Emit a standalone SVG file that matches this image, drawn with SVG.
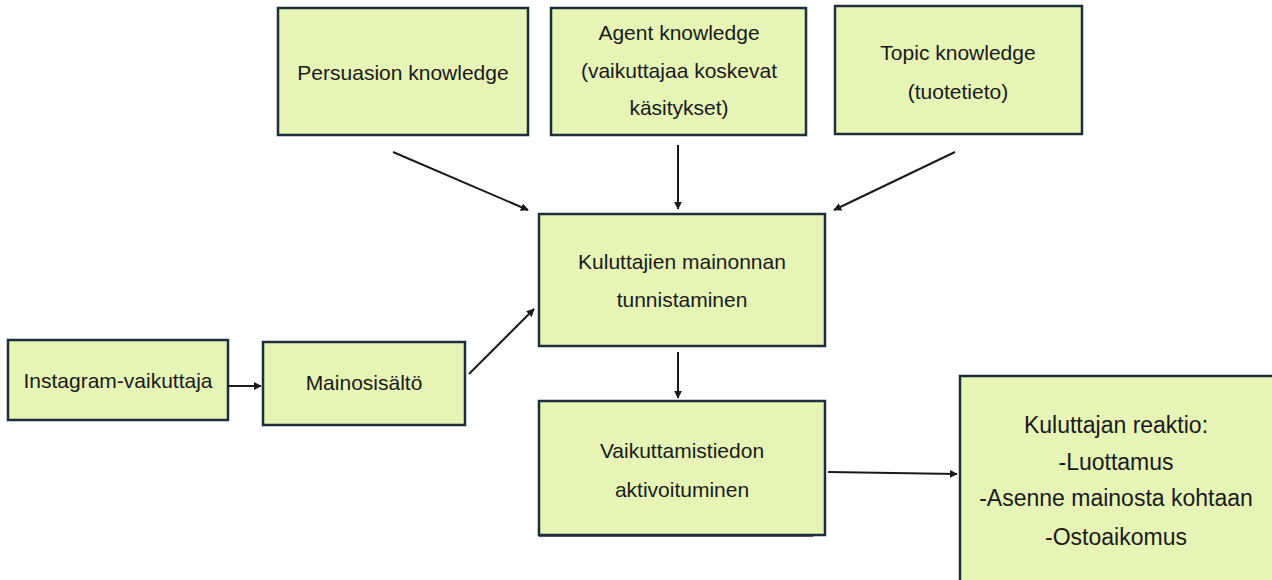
<svg xmlns="http://www.w3.org/2000/svg" width="1272" height="580" viewBox="0 0 1272 580">
<style>
.box{fill:#E6F4B5;stroke:#1C2F3C;stroke-width:2.5}
.t{font-family:"Liberation Sans",Arial,sans-serif;font-size:21px;fill:#1a1a1a;text-anchor:middle}
.t2{font-family:"Liberation Sans",Arial,sans-serif;font-size:23px;fill:#1a1a1a;text-anchor:middle}
.c{stroke:#1a1a1a;stroke-width:2;fill:none;marker-end:url(#ah)}
</style>
<defs>
<marker id="ah" viewBox="0 0 10 10" refX="9" refY="5" markerWidth="4" markerHeight="4" orient="auto" markerUnits="strokeWidth">
<path d="M0,0 L10,5 L0,10 z" fill="#1a1a1a"/>
</marker>
</defs>
<rect width="1272" height="580" fill="#ffffff"/>
<g id="persuasion">
<rect class="box" x="278" y="8" width="250" height="127"/>
<text class="t" x="403" y="80">Persuasion knowledge</text>
</g>
<g id="agent">
<rect class="box" x="551" y="8" width="255" height="127"/>
<text class="t" x="679" y="40">Agent knowledge</text>
<text class="t" x="679" y="78">(vaikuttajaa koskevat</text>
<text class="t" x="679" y="115">käsitykset)</text>
</g>
<g id="topic">
<rect class="box" x="835" y="6" width="247" height="128"/>
<text class="t" x="958" y="60">Topic knowledge</text>
<text class="t" x="958" y="99">(tuotetieto)</text>
</g>
<g id="kuluttajien">
<rect class="box" x="539" y="214" width="286" height="132"/>
<text class="t" x="682" y="269">Kuluttajien mainonnan</text>
<text class="t" x="682" y="307">tunnistaminen</text>
</g>
<g id="instagram">
<rect class="box" x="8" y="340" width="220" height="80"/>
<text class="t" x="118" y="388">Instagram-vaikuttaja</text>
</g>
<g id="mainos">
<rect class="box" x="263" y="342" width="202" height="83"/>
<text class="t" x="364" y="390">Mainosisältö</text>
</g>
<g id="vaikuttamistiedon">
<rect class="box" x="539" y="401" width="286" height="134"/>
<line x1="539" y1="536" x2="813" y2="536" stroke="#1C2F3C" stroke-width="1.5"/>
<text class="t" x="682" y="458">Vaikuttamistiedon</text>
<text class="t" x="682" y="497">aktivoituminen</text>
</g>
<g id="reaktio">
<rect class="box" x="960" y="376" width="320" height="220"/>
<text class="t2" x="1116" y="433">Kuluttajan reaktio:</text>
<text class="t2" x="1116" y="470">-Luottamus</text>
<text class="t2" x="1116" y="506">-Asenne mainosta kohtaan</text>
<text class="t2" x="1116" y="545">-Ostoaikomus</text>
</g>
<g id="connectors">
<line class="c" x1="393" y1="152" x2="528" y2="210"/>
<line class="c" x1="678" y1="145" x2="678" y2="209"/>
<line class="c" x1="955" y1="152" x2="834" y2="210"/>
<line class="c" x1="469" y1="374" x2="534" y2="309"/>
<line class="c" x1="678" y1="352" x2="678" y2="398"/>
<line class="c" x1="228" y1="386" x2="261" y2="386"/>
<line class="c" x1="828" y1="472" x2="957" y2="474"/>
</g>
</svg>
